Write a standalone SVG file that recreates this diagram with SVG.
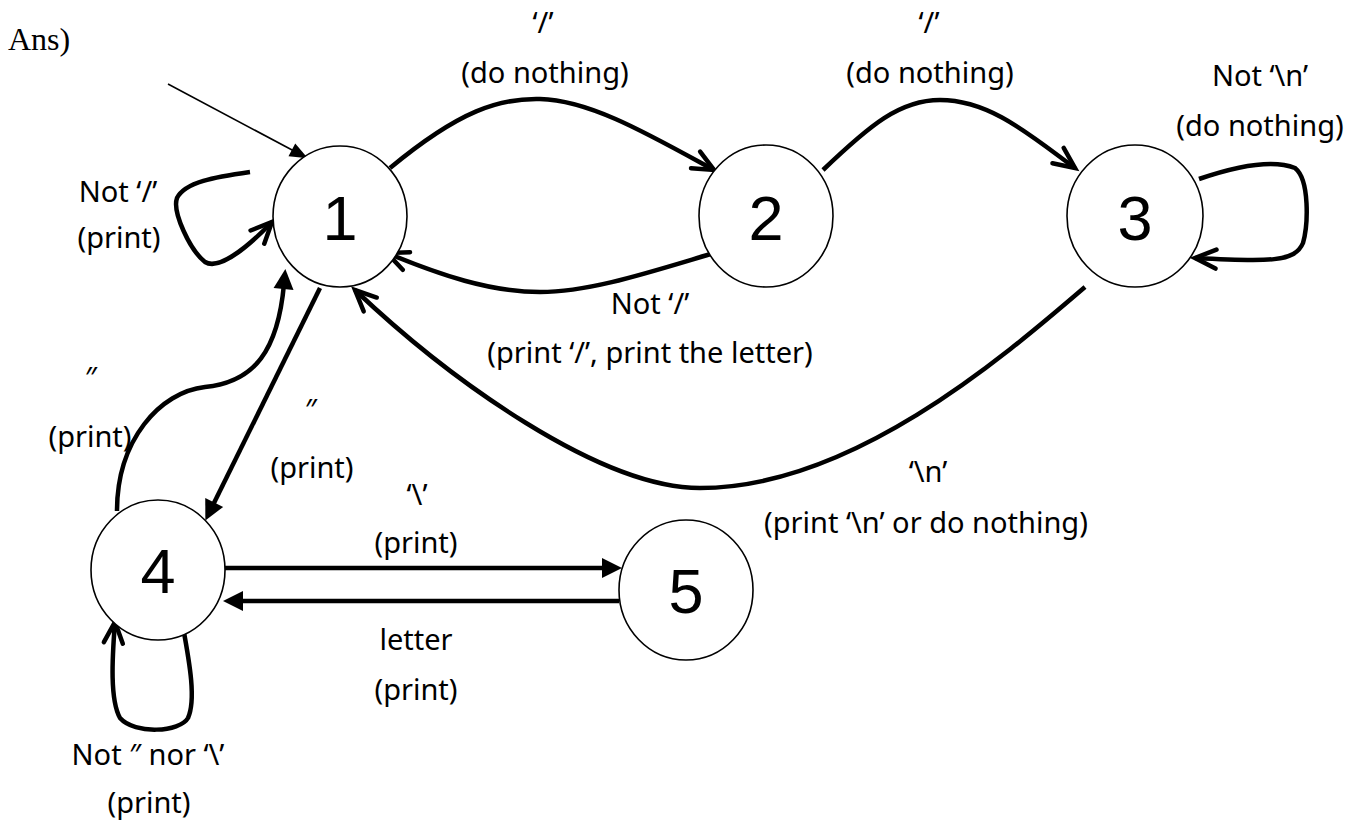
<svg xmlns="http://www.w3.org/2000/svg" width="1361" height="825" viewBox="0 0 1361 825">
<style>
.node{fill:#fff;stroke:#000;stroke-width:1.6}
.num{font-family:"Liberation Sans",Arial,sans-serif;font-size:63px;fill:#000;text-anchor:middle}
.lbl{font-family:"Noto Sans","Open Sans",sans-serif;font-size:29px;fill:#000;text-anchor:middle}
.edge{fill:none;stroke:#000;stroke-width:4.5}
.open{marker-end:url(#openV)}
.solid{marker-end:url(#tri)}
</style>
<defs>
<marker id="openV" markerUnits="userSpaceOnUse" markerWidth="30" markerHeight="30" viewBox="-24 -15 30 30" refX="0" refY="0" orient="auto" overflow="visible">
<path d="M-21,-9.5 L0,0 L-21,9.5" fill="none" stroke="#000" stroke-width="4.5" stroke-linejoin="miter" stroke-linecap="round"/>
</marker>
<marker id="tri" markerUnits="userSpaceOnUse" markerWidth="30" markerHeight="30" viewBox="-4 -10 24 20" refX="4" refY="0" orient="auto" overflow="visible">
<path d="M0,-8 L16,0 L0,8 Z" fill="#000"/>
</marker>
<marker id="triThin" markerUnits="userSpaceOnUse" markerWidth="24" markerHeight="24" viewBox="-2 -8 20 16" refX="2" refY="0" orient="auto" overflow="visible">
<path d="M0,-6 L15,0 L0,6 Z" fill="#000"/>
</marker>
</defs>
<rect width="1361" height="825" fill="#fff"/>
<text x="8" y="50" font-family="Liberation Serif,'Times New Roman',serif" font-size="32">Ans)</text>
<g id="connectors">
<line x1="168" y1="84" x2="294" y2="151" stroke="#000" stroke-width="1.6" marker-end="url(#triThin)"/>
<path class="edge open" d="M390,168 C460,110 500,98 540,99 C590,100 650,135 714,170"/>
<path class="edge open" d="M823,170 C870,125 900,100 940,100 C990,100 1030,135 1075,168"/>
<path class="edge open" d="M250,172 C215,177 185,182 177,198 C172,212 190,250 205,262 C218,270 245,250 272,222"/>
<path class="edge open" d="M714,253 C650,272 590,292 540,292 C490,292 440,275 387,253"/>
<path class="edge open" d="M1085,287 C1000,360 850,488 700,488 C600,488 450,380 355,290"/>
<path class="edge open" d="M1199,179 C1240,165 1275,160 1295,168 C1310,180 1308,225 1303,243 C1295,262 1270,262 1195,258"/>
<path class="edge open" d="M183,627 C190,665 196,700 188,718 C180,732 135,735 120,718 C110,700 112,660 115,622"/>
<line class="edge solid" x1="320" y1="288" x2="212" y2="507"/>
<path class="edge solid" d="M117,511 C117,440 160,392 205,387 C255,382 278,350 284,284"/>
<line class="edge solid" x1="225" y1="568" x2="607" y2="568"/>
<line class="edge solid" x1="619" y1="601" x2="238" y2="601"/>
</g>
<g id="node-1"><ellipse class="node" cx="340" cy="216.5" rx="67" ry="70.5"/><text class="num" x="340" y="240">1</text></g>
<g id="node-2"><ellipse class="node" cx="766" cy="216" rx="67" ry="71"/><text class="num" x="766" y="240">2</text></g>
<g id="node-3"><ellipse class="node" cx="1135" cy="216" rx="68" ry="71"/><text class="num" x="1135" y="240">3</text></g>
<g id="node-4"><ellipse class="node" cx="158" cy="570" rx="67" ry="70"/><text class="num" x="158" y="593">4</text></g>
<g id="node-5"><ellipse class="node" cx="686" cy="590" rx="67" ry="70"/><text class="num" x="686" y="613">5</text></g>
<g id="labels">
<text class="lbl" x="543" y="33">‘/’</text>
<text class="lbl" x="545" y="83">(do nothing)</text>
<text class="lbl" x="929" y="33">‘/’</text>
<text class="lbl" x="930" y="83">(do nothing)</text>
<text class="lbl" x="1260" y="86">Not ‘\n’</text>
<text class="lbl" x="1260" y="136">(do nothing)</text>
<text class="lbl" x="118" y="202">Not ‘/’</text>
<text class="lbl" x="119" y="248">(print)</text>
<text class="lbl" x="650" y="314">Not ‘/’</text>
<text class="lbl" x="650" y="363">(print ‘/’, print the letter)</text>
<text class="lbl" x="928" y="482">‘\n’</text>
<text class="lbl" x="926" y="533">(print ‘\n’ or do nothing)</text>
<text class="lbl" x="91" y="388">″</text>
<text class="lbl" x="90" y="447">(print)</text>
<text class="lbl" x="311" y="420">″</text>
<text class="lbl" x="312" y="478">(print)</text>
<text class="lbl" x="417" y="505">‘\’</text>
<text class="lbl" x="416" y="553">(print)</text>
<text class="lbl" x="416" y="650">letter</text>
<text class="lbl" x="416" y="700">(print)</text>
<text class="lbl" x="148" y="765">Not ″ nor ‘\’</text>
<text class="lbl" x="149" y="813">(print)</text>
</g>
</svg>
